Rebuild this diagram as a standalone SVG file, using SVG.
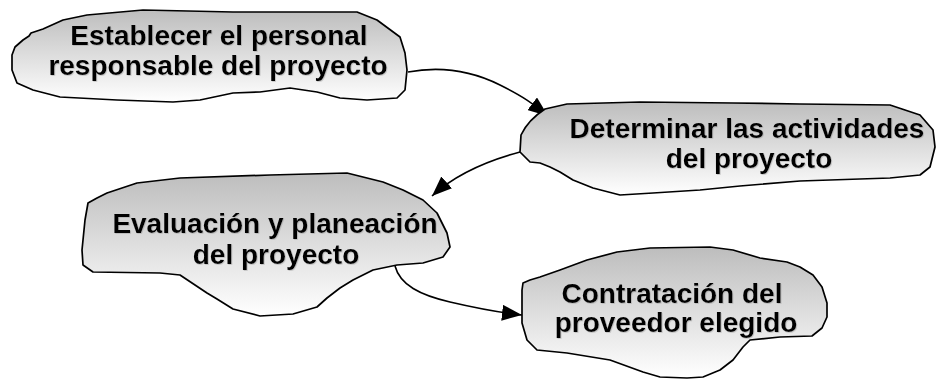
<svg xmlns="http://www.w3.org/2000/svg" width="936" height="379" viewBox="0 0 936 379">
  <defs>
    <!-- vertical grey-to-white fill used by every cloud -->
    <linearGradient id="cloudFill" x1="0" y1="0" x2="0" y2="1">
      <stop offset="0" stop-color="#bdbdbd"/>
      <stop offset="1" stop-color="#ffffff"/>
    </linearGradient>
    <filter id="softShadow" x="-5%" y="-20%" width="110%" height="140%">
      <feDropShadow dx="0.8" dy="0.8" stdDeviation="0.5" flood-color="#909090" flood-opacity="0.5"/>
    </filter>
    <marker id="arrow" markerUnits="userSpaceOnUse" markerWidth="21" markerHeight="16" refX="20" refY="8" orient="auto">
      <path d="M0,0 L20,8 L0,16 Z" fill="#000"/>
    </marker>
  </defs>
  <style>
    .cloud { fill: url(#cloudFill); stroke: #000; stroke-width: 1.7; stroke-linejoin: round; }
    .label { font-family: "Liberation Sans", Arial, sans-serif; font-weight: bold; font-size: 28px; fill: #000; text-anchor: middle; filter: url(#softShadow); }
    .link { fill: none; stroke: #000; stroke-width: 1.6; marker-end: url(#arrow); }
  </style>

  <g id="connectors">
    <path class="link" d="M408,72 C440,66 470,70 500,85 S535,106 548,116"/>
    <path class="link" d="M520,152 C490,160 458,172 432,196"/>
    <path class="link" d="M395,266 C400,285 420,295 450,302 S495,312 522,315"/>
  </g>

  <g id="node-personal">
    <path class="cloud" d="M12,55 L15,47 L23,40 L29,36 L31,33 L43,29 L63,20 L87,15 L143,10 L233,12 L357,12 L377,20 L400,37 L405,53 L407,70 L405,90 L397,98 L367,100 L340,98 L317,92 L290,88 L260,92 L233,93 L200,100 L173,102 L117,100 L60,97 L33,90 L17,83 L12,70 Z"/>
    <text class="label" x="219" y="45">Establecer el personal</text>
    <text class="label" x="218" y="75">responsable del proyecto</text>
  </g>

  <g id="node-actividades">
    <path class="cloud" d="M545,109 Q528,120 521,135 L520,152 L530,162 L540,163 L550,167 L560,172 L573,180 L593,188 L620,195 L653,193 L700,190 L740,186 L800,181 L890,178 L920,175 L930,167 L935,147 L933,130 L920,115 L890,105 L800,104 L733,103 L640,102 L567,104 Z"/>
    <text class="label" x="747" y="138">Determinar las actividades</text>
    <text class="label" x="749" y="168">del proyecto</text>
  </g>

  <g id="node-evaluacion">
    <path class="cloud" d="M107,193 L137,183 L180,178 L270,175 L347,173 L383,182 L403,190 L423,200 L437,213 L447,233 L450,247 L443,257 L423,263 L397,265 L373,270 L353,280 L340,288 L327,298 L317,307 L293,314 L260,316 L233,309 L217,299 L207,293 L180,275 L160,273 L93,272 L83,265 L82,250 L85,220 L88,203 L97,198 Z"/>
    <text class="label" x="275" y="233">Evaluación y planeación</text>
    <text class="label" x="276" y="264">del proyecto</text>
  </g>

  <g id="node-contratacion">
    <path class="cloud" d="M522,290 L523,283 L530,280 L540,277 L560,270 L587,260 L617,252 L650,248 L710,247 L733,250 L760,258 L787,262 L800,267 L813,275 L822,287 L827,303 L827,317 L822,328 L812,336 L780,337 L750,340 L743,347 L733,360 L720,370 L703,377 L687,378 L660,377 L643,372 L610,360 L567,353 L537,350 L527,340 L522,323 Z"/>
    <text class="label" x="672" y="303">Contratación del</text>
    <text class="label" x="676" y="332">proveedor elegido</text>
  </g>
</svg>
